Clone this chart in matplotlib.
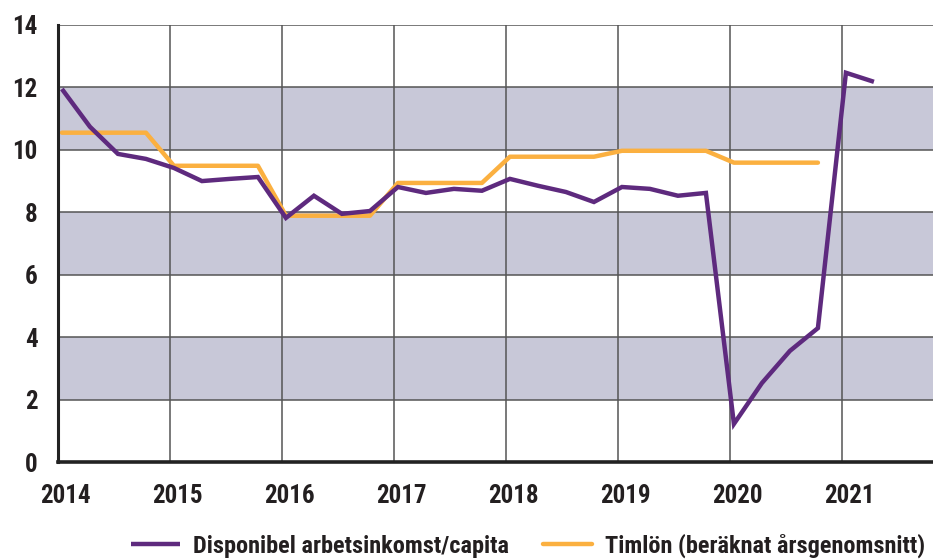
import matplotlib
matplotlib.use("Agg")
import matplotlib.pyplot as plt
import matplotlib.transforms as mtransforms
from matplotlib import font_manager

# ---- data ----
quarters_income = [2014 + 0.035 + 0.25 * i for i in range(30)]
income = [11.95, 10.74, 9.87, 9.71, 9.42, 9.00, 9.07, 9.13,
          7.82, 8.53, 7.95, 8.04, 8.81, 8.62, 8.75, 8.69,
          9.07, 8.85, 8.65, 8.33, 8.81, 8.75, 8.53, 8.62,
          1.22, 2.53, 3.56, 4.29, 12.47, 12.18]
years_wage = [2014, 2015, 2016, 2017, 2018, 2019, 2020]
wage_annual = [10.55, 9.49, 7.89, 8.94, 9.78, 9.97, 9.59]
quarters_wage = [y + 0.035 + 0.25 * q for y in years_wage for q in range(4)]
wage = [v for v in wage_annual for _ in range(4)]

x_ticks = [2014, 2015, 2016, 2017, 2018, 2019, 2020, 2021]
y_ticks = [0, 2, 4, 6, 8, 10, 12, 14]
bands = [(2, 4), (6, 8), (10, 12)]
label_income = "Disponibel arbetsinkomst/capita"
label_wage = "Timlön (beräknat årsgenomsnitt)"

# ---- fonts ----
names = {f.name for f in font_manager.fontManager.ttflist}
fam = ["Liberation Sans Narrow", "DejaVu Sans"] if "Liberation Sans Narrow" in names else ["Roboto Condensed", "DejaVu Sans"]
plt.rcParams['font.family'] = fam
plt.rcParams['font.weight'] = 'bold'

PURPLE = "#5e2a7e"
ORANGE = "#fbb040"
BAND = "#c8c8d8"
GRID = "#555555"

fig = plt.figure(figsize=(9.33, 5.6), dpi=100)
ax = fig.add_axes([58/933, 1-462/560, 1-58/933, (462-25)/560])

for lo, hi in bands:
    ax.axhspan(lo, hi, color=BAND, zorder=0, lw=0)

ax.set_xlim(2014, 2014 + (933 - 58) / 112)
ax.set_ylim(0, 14)
ax.set_xticks(x_ticks)
ax.set_yticks(y_ticks)
ax.grid(True, color=GRID, lw=1.1, zorder=1)
ax.set_axisbelow(True)

ax.plot(quarters_wage, wage, color=ORANGE, lw=3.2, zorder=3, solid_capstyle='round',
        solid_joinstyle='round', label=label_wage)
ax.plot(quarters_income, income, color=PURPLE, lw=3.2, zorder=4, solid_capstyle='butt',
        solid_joinstyle='miter', label=label_income)

for s in ['top', 'right']:
    ax.spines[s].set_visible(False)
ax.spines['left'].set_linewidth(2.2)
ax.spines['bottom'].set_linewidth(2.6)
ax.spines['left'].set_color('#222222')
ax.spines['bottom'].set_color('#222222')
ax.spines['left'].set_zorder(5)
ax.spines['bottom'].set_zorder(5)

ax.tick_params(axis='both', length=0, labelsize=18, colors='#231f20')
ax.tick_params(axis='y', pad=14.5)
ax.tick_params(axis='x', pad=16)
for lab in ax.get_xticklabels() + ax.get_yticklabels():
    lab.set_fontweight('bold')
offset = mtransforms.ScaledTranslation(7/100, 0, fig.dpi_scale_trans)
for lab in ax.get_xticklabels():
    lab.set_transform(lab.get_transform() + offset)

handles, labels = ax.get_legend_handles_labels()
order = [1, 0]
leg = fig.legend([handles[i] for i in order], [labels[i] for i in order],
                 loc='center', bbox_to_anchor=(528/933, 1-546/560), ncol=2, frameon=False,
                 fontsize=17.5, handlelength=2.0, columnspacing=1.4, handletextpad=0.55,
                 borderpad=0, borderaxespad=0)
for t in leg.get_texts():
    t.set_fontweight('bold')
    t.set_color('#231f20')

fig.savefig("out.png", dpi=100)
